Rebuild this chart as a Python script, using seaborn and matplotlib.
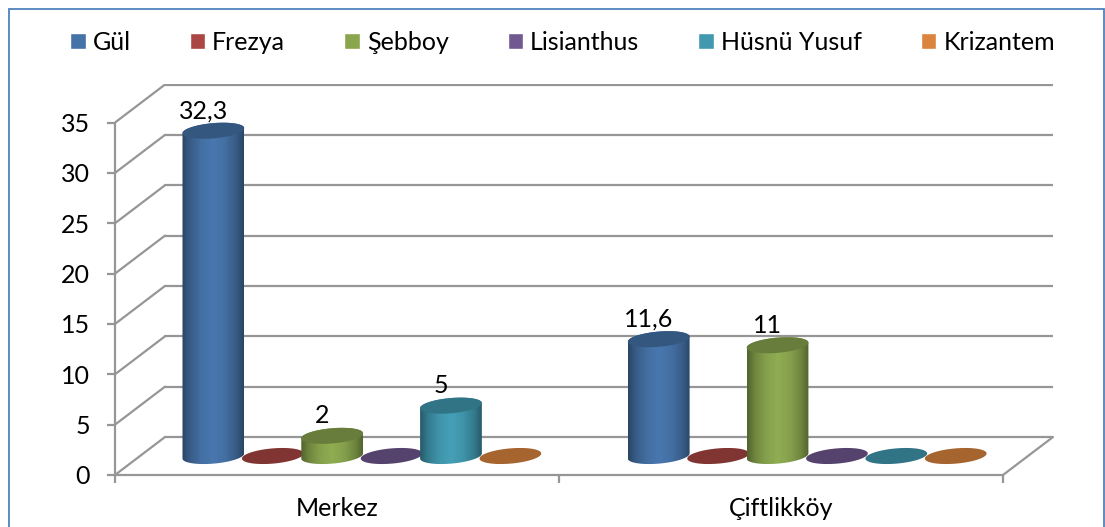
import numpy as np
import pandas as pd
import matplotlib
matplotlib.use("Agg")
import matplotlib.pyplot as plt
import seaborn as sns
from matplotlib.colors import LinearSegmentedColormap, to_rgb
from matplotlib.patches import Polygon, Rectangle

categories = ["Merkez", "Çiftlikköy"]
series_names = ["Gül", "Frezya", "Şebboy", "Lisianthus", "Hüsnü Yusuf", "Krizantem"]
gul = [32.3, 11.6]
frezya = [0, 0]
sebboy = [2, 11]
lisianthus = [0, 0]
husnu_yusuf = [5, 0]
krizantem = [0, 0]
colors = ["#4572A7", "#AA4643", "#89A54E", "#71588F", "#4198AF", "#DB843D"]
y_ticks = [0, 5, 10, 15, 20, 25, 30, 35]

series_values = [gul, frezya, sebboy, lisianthus, husnu_yusuf, krizantem]
df = pd.DataFrame(
    [(c, s, v[i]) for s, v in zip(series_names, series_values) for i, c in enumerate(categories)],
    columns=["Bölge", "Çiçek", "Değer"],
)

W, H = 1105, 527
sns.set_theme(style="white")
plt.rcParams["font.family"] = ["Lato", "DejaVu Sans"]
FS = 18

fig = plt.figure(figsize=(W / 100, H / 100), dpi=100, facecolor="white")
# plot region in pixels
L, R, T, B = 115, 1053, 83.5, 475
ax = fig.add_axes([L / W, (H - B) / H, (R - L) / W, (B - T) / H])
ax.patch.set_alpha(0)

unit_x = 443.75           # pixels per category
unit_y = 10.07            # pixels per value
xlim = (-0.5, -0.5 + (R - L) / unit_x)
ylim = (0, (B - T) / unit_y)
dx, dy = 50 / unit_x, 38 / unit_y    # depth of the 3D box
GRAY = "#969696"
LW = 1.6

sns.barplot(
    data=df, x="Bölge", y="Değer", hue="Çiçek", order=categories, hue_order=series_names,
    palette=colors, saturation=1, width=59.4 * 6 / unit_x, ax=ax, errorbar=None, zorder=1,
)
handles, labels = ax.get_legend_handles_labels()
ax.get_legend().remove()
ax.set_xlim(*xlim)
ax.set_ylim(*ylim)
ax.set_xlabel("")
ax.set_ylabel("")

# wall grid, floor
for v in y_ticks:
    ax.plot([-0.5 + dx, xlim[1]], [v + dy, v + dy], color=GRAY, lw=LW, zorder=0, solid_capstyle="round")
    ax.plot([-0.5, -0.5 + dx], [v, v + dy], color=GRAY, lw=LW, zorder=0, solid_capstyle="round")
ax.plot([xlim[1] - dx, xlim[1]], [0, dy], color=GRAY, lw=LW, zorder=0, clip_on=False)

# axis lines and ticks
for s in ("top", "right"):
    ax.spines[s].set_visible(False)
ax.spines["left"].set_bounds(0, 35)
ax.spines["bottom"].set_bounds(-0.5, 1.5)
for s in ("left", "bottom"):
    ax.spines[s].set_color(GRAY)
    ax.spines[s].set_linewidth(LW)
    ax.spines[s].set_visible(True)
ax.set_yticks(y_ticks)
ax.set_xticks([0, 1])
ax.set_xticklabels(categories)
ax.set_xticks([-0.5, 0.5, 1.5], minor=True)
ax.tick_params(axis="y", left=True, length=6, width=LW, color=GRAY, pad=12, labelsize=FS, labelcolor="black")
ax.tick_params(axis="x", which="major", bottom=False, length=0, pad=16, labelsize=FS, labelcolor="black")
ax.tick_params(axis="x", which="minor", bottom=True, length=6, width=LW, color=GRAY)

# 3D cylinders from the bars seaborn laid out
A, BB, TILT = 31.0, 7.6, np.deg2rad(5)
base_px = 19.0
sx, sy = 1 / unit_x, 1 / unit_y


def arc(xc, yc, t0, t1, n=60):
    t = np.linspace(t0, t1, n)
    px = A * np.cos(t) * np.cos(TILT) - BB * np.sin(t) * np.sin(TILT)
    py = A * np.cos(t) * np.sin(TILT) + BB * np.sin(t) * np.cos(TILT)
    return np.column_stack([xc + px * sx, yc + py * sy])


z = 2
for name, container, color, vals in zip(series_names, ax.containers, colors, series_values):
    rgb = np.array(to_rgb(color))
    cap = rgb * 0.76
    stops = [(0, 0.60), (0.12, 0.80), (0.30, 0.97), (0.50, 1.05), (0.70, 0.97), (0.88, 0.80), (1, 0.60)]
    cmap = LinearSegmentedColormap.from_list(name, [(p, np.clip(rgb * f, 0, 1)) for p, f in stops])
    for idx, (bar, v) in enumerate(zip(container.patches, vals)):
        xc = bar.get_x() + bar.get_width() / 2 + dx / 2 + idx * 1.6 * sx
        y0 = base_px * sy
        bar.set_x(bar.get_x() + dx / 2 + idx * 1.6 * sx)
        bar.set_y(y0)
        bar.set_alpha(0)
        z += 1
        if v > 0:
            y1 = y0 + v
            pts = np.vstack([arc(xc, y0, np.pi, 2 * np.pi), arc(xc, y1, 0, np.pi)])
            grad = np.linspace(0, 1, 128).reshape(1, -1)
            im = ax.imshow(
                grad, cmap=cmap, aspect="auto", interpolation="bilinear", zorder=z,
                extent=(xc - A * sx, xc + A * sx, y0 - 10 * sy, y1 + 10 * sy),
            )
            im.set_clip_path(Polygon(pts, closed=True, transform=ax.transData))
            ax.annotate(
                f"{v:g}".replace(".", ","), xy=(xc, y1), xytext=(-10 * 0.72, 20 * 0.72),
                textcoords="offset points", ha="center", va="center", fontsize=FS, color="black",
                zorder=50,
            )
        ax.add_patch(Polygon(arc(xc, y0 + v, 0, 2 * np.pi), closed=True, fc=cap, ec="none", zorder=z + 0.5))
ax.set_xlim(*xlim)
ax.set_ylim(*ylim)

# legend
fig.legend(
    handles, labels, ncol=6, loc="center", bbox_to_anchor=(562.5 / W, 1 - 42 / H), frameon=False,
    fontsize=FS, handlelength=0.62, handleheight=0.62, handletextpad=0.28, columnspacing=2.36,
    labelcolor="black",
)

# chart frame
fig.add_artist(Rectangle((8.5 / W, -0.1), (1104 - 8.5) / W, 1.1 - 8.5 / H, transform=fig.transFigure,
                         fc="none", ec="#4F81BD", lw=1.3))

fig.savefig("out.png", dpi=100)
